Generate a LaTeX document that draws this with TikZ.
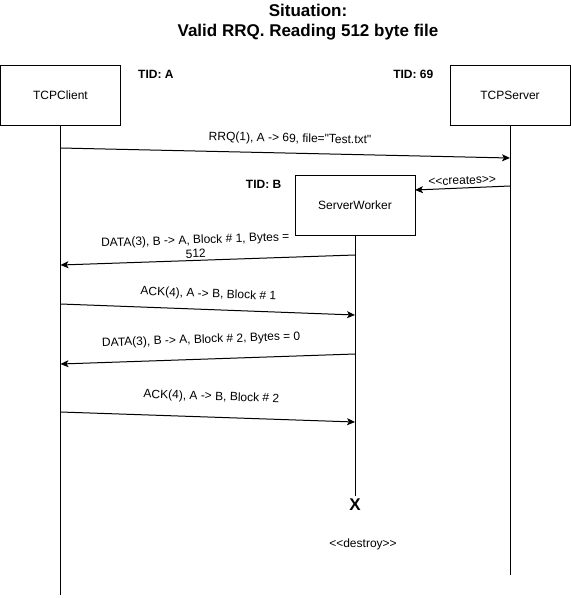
\documentclass[tikz,border=0pt]{standalone}
\usepackage{fontspec}
\newfontfamily\drawfont{Liberation Sans}
\usetikzlibrary{positioning,arrows.meta}

\tikzset{
  actor/.style={draw, line width=1pt, minimum width=120pt, minimum height=60pt, inner sep=0pt, font=\drawfont\fontsize{12}{14}\selectfont},
  tid/.style={inner sep=0pt, font=\drawfont\bfseries\fontsize{12}{14}\selectfont},
  lbl/.style={inner sep=1pt, align=center, font=\drawfont\fontsize{12}{14}\selectfont},
  headline/.style={inner sep=0pt, align=center, font=\drawfont\bfseries\fontsize{17}{20}\selectfont},
  kill/.style={inner sep=3pt, font=\drawfont\bfseries\fontsize{17}{20}\selectfont},
  life/.style={line width=1pt},
  msg/.style={line width=1pt, -{Stealth[length=8pt,width=7pt,inset=2pt]}},
}

\begin{document}
\begin{tikzpicture}[x=1pt, y=-1pt]
\useasboundingbox (0,0) rectangle (571,598);

% Nodes
\node[headline](title) at (308,22) {Situation:\\Valid RRQ. Reading 512 byte file};
\node[actor](client) at (60.5,95) {TCPClient};
\node[actor](server) at (510,95) {TCPServer};
\node[actor](worker) at (355,205) {ServerWorker};
\node[tid, right = 17pt of client.north east, yshift=-10pt](tidA) {TID: A};
\node[tid, left = 16pt of server.north west, yshift=-10pt](tid69) {TID: 69};
\node[tid, left = 13pt of worker.north west, yshift=-10pt](tidB) {TID: B};
\node[kill](kill) at (355,505) {X};
\node[lbl](destroy) at (363,544) {<<destroy>>};

% lifelines
\coordinate (clientend) at (60.5,595);
\coordinate (serverend) at (510,575);
\draw[life] (client) -- (clientend);
\draw[life] (server) -- (serverend);
\draw[life] (worker) -- (kill);

% messages
\coordinate (rrq-s) at (60.5,148);
\coordinate (rrq-e) at (510,158);
\coordinate (creates-s) at (510,186);
\coordinate (creates-e) at (415,190);
\coordinate (data1-s) at (355,255);
\coordinate (data1-e) at (60.5,265);
\coordinate (ack1-s) at (60.5,304);
\coordinate (ack1-e) at (355,315);
\coordinate (data2-s) at (355,354);
\coordinate (data2-e) at (60.5,364);
\coordinate (ack2-s) at (60.5,412);
\coordinate (ack2-e) at (355,422);

\draw[msg] (rrq-s) -- node[lbl, pos=0.51, above=7pt, sloped] {RRQ(1), A -> 69, file=\textquotedbl Test.txt\textquotedbl} (rrq-e);
\draw[msg] (creates-s) -- node[lbl, above=2pt, sloped] {<<creates>>} (creates-e);
\draw[msg] (data1-s) -- node[lbl, pos=0.54, above=1pt, sloped] {DATA(3), B -> A, Block \# 1, Bytes =\\512} (data1-e);
\draw[msg] (ack1-s) -- node[lbl, above=8pt, sloped] {ACK(4), A -> B, Block \# 1} (ack1-e);
\draw[msg] (data2-s) -- node[lbl, pos=0.52, above=12pt, sloped] {DATA(3), B -> A, Block \# 2, Bytes = 0} (data2-e);
\draw[msg] (ack2-s) -- node[lbl, pos=0.51, above=13pt, sloped] {ACK(4), A -> B, Block \# 2} (ack2-e);

\end{tikzpicture}
\end{document}
